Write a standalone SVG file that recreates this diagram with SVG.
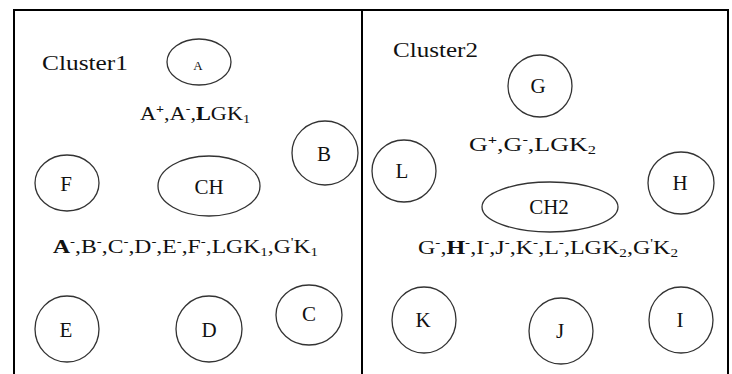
<svg xmlns="http://www.w3.org/2000/svg" width="732" height="374" viewBox="0 0 732 374">
  <style>
    text { font-family: "Liberation Serif", "Times New Roman", serif; fill: #111; }
    .node { fill: none; stroke: #333; stroke-width: 1.3; }
    .lbl { font-size: 21px; text-anchor: middle; }
    .small { font-size: 13px; text-anchor: middle; }
    .set { font-size: 19px; }
    .title { font-size: 20px; }
    .frame { fill: none; stroke: #000; stroke-width: 2; }
    .sup { font-size: 12px; }
    .sub { font-size: 12px; }
  </style>
  <rect width="732" height="374" fill="#fff"/>

  <!-- frame and cluster divider -->
  <g id="frame">
    <rect class="frame" x="14" y="10" width="714" height="380"/>
    <line class="frame" x1="362" y1="10" x2="362" y2="374"/>
  </g>

  <!-- cluster 1 -->
  <g id="cluster1">
    <text class="title" x="42" y="70" textLength="86" lengthAdjust="spacingAndGlyphs">Cluster1</text>
    <text class="set" x="140" y="120" textLength="110" lengthAdjust="spacingAndGlyphs">A<tspan class="sup" dy="-7" font-weight="bold">+</tspan><tspan dy="7">,A</tspan><tspan class="sup" dy="-7">-</tspan><tspan dy="7">,</tspan><tspan font-weight="bold">L</tspan>GK<tspan class="sub" dy="3">1</tspan></text>
    <text class="set" x="53" y="253" textLength="265" lengthAdjust="spacingAndGlyphs"><tspan font-weight="bold">A</tspan><tspan class="sup" dy="-7">-</tspan><tspan dy="7">,B</tspan><tspan class="sup" dy="-7">-</tspan><tspan dy="7">,C</tspan><tspan class="sup" dy="-7">-</tspan><tspan dy="7">,D</tspan><tspan class="sup" dy="-7">-</tspan><tspan dy="7">,E</tspan><tspan class="sup" dy="-7">-</tspan><tspan dy="7">,F</tspan><tspan class="sup" dy="-7">-</tspan><tspan dy="7">,LGK</tspan><tspan class="sub" dy="3">1</tspan><tspan dy="-3">,G</tspan><tspan class="sup" dy="-7">'</tspan><tspan dy="7">K</tspan><tspan class="sub" dy="3">1</tspan></text>
  </g>
  <g id="A">
    <ellipse class="node" cx="199" cy="62" rx="32" ry="23"/>
    <text class="small" x="198" y="70">A</text>
  </g>
  <g id="B">
    <ellipse class="node" cx="325" cy="153" rx="33" ry="32"/>
    <text class="lbl" x="324" y="161">B</text>
  </g>
  <g id="F">
    <ellipse class="node" cx="67" cy="183" rx="32" ry="28"/>
    <text class="lbl" x="66" y="191">F</text>
  </g>
  <g id="CH">
    <ellipse class="node" cx="209" cy="186" rx="51" ry="30"/>
    <text class="lbl" x="209" y="194">CH</text>
  </g>
  <g id="E">
    <ellipse class="node" cx="67" cy="329" rx="32" ry="33"/>
    <text class="lbl" x="66" y="337">E</text>
  </g>
  <g id="D">
    <ellipse class="node" cx="209" cy="329" rx="33" ry="33"/>
    <text class="lbl" x="209" y="337">D</text>
  </g>
  <g id="C">
    <ellipse class="node" cx="309" cy="315" rx="33" ry="30"/>
    <text class="lbl" x="309" y="321">C</text>
  </g>

  <!-- cluster 2 -->
  <g id="cluster2">
    <text class="title" x="393" y="57" textLength="85" lengthAdjust="spacingAndGlyphs">Cluster2</text>
    <text class="set" x="469" y="151" textLength="127" lengthAdjust="spacingAndGlyphs">G<tspan class="sup" dy="-7" font-weight="bold">+</tspan><tspan dy="7">,G</tspan><tspan class="sup" dy="-7">-</tspan><tspan dy="7">,LGK</tspan><tspan class="sub" dy="3">2</tspan></text>
    <text class="set" x="418" y="254" textLength="260" lengthAdjust="spacingAndGlyphs">G<tspan class="sup" dy="-7">-</tspan><tspan dy="7">,</tspan><tspan font-weight="bold">H</tspan><tspan class="sup" dy="-7">-</tspan><tspan dy="7">,I</tspan><tspan class="sup" dy="-7">-</tspan><tspan dy="7">,J</tspan><tspan class="sup" dy="-7">-</tspan><tspan dy="7">,K</tspan><tspan class="sup" dy="-7">-</tspan><tspan dy="7">,L</tspan><tspan class="sup" dy="-7">-</tspan><tspan dy="7">,LGK</tspan><tspan class="sub" dy="3">2</tspan><tspan dy="-3">,G</tspan><tspan class="sup" dy="-7">'</tspan><tspan dy="7">K</tspan><tspan class="sub" dy="3">2</tspan></text>
  </g>
  <g id="G">
    <ellipse class="node" cx="540" cy="86" rx="32" ry="31"/>
    <text class="lbl" x="538" y="93">G</text>
  </g>
  <g id="L">
    <ellipse class="node" cx="404" cy="171" rx="32" ry="31"/>
    <text class="lbl" x="402" y="178">L</text>
  </g>
  <g id="H">
    <ellipse class="node" cx="681" cy="183" rx="33" ry="31"/>
    <text class="lbl" x="680" y="190">H</text>
  </g>
  <g id="CH2">
    <ellipse class="node" cx="550" cy="207" rx="68" ry="25"/>
    <text class="lbl" x="549" y="214">CH2</text>
  </g>
  <g id="K">
    <ellipse class="node" cx="424" cy="320" rx="32" ry="33"/>
    <text class="lbl" x="423" y="327">K</text>
  </g>
  <g id="J">
    <ellipse class="node" cx="561" cy="331" rx="32" ry="33"/>
    <text class="lbl" x="560" y="338">J</text>
  </g>
  <g id="I">
    <ellipse class="node" cx="681" cy="320" rx="32" ry="33"/>
    <text class="lbl" x="680" y="327">I</text>
  </g>

  <!-- no connectors are drawn between nodes -->
  <g id="connectors"/>
</svg>
